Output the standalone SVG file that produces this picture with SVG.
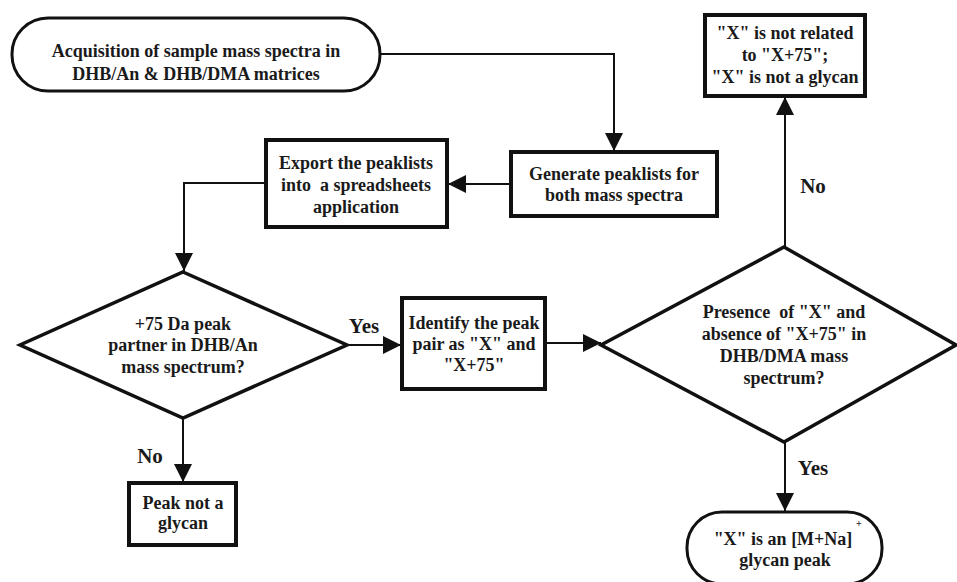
<svg xmlns="http://www.w3.org/2000/svg" width="957" height="582" viewBox="0 0 957 582">
<style>
text{font-family:'Liberation Serif','DejaVu Serif','Times New Roman',serif;font-weight:bold;font-size:18px;fill:#1a1a1a;text-anchor:middle}
.lbl{font-size:21px}
.box{fill:#fff;stroke:#111;stroke-width:4}
.term{fill:#fff;stroke:#111;stroke-width:3}
.dia{fill:#fff;stroke:#111;stroke-width:3.5;stroke-linejoin:miter}
.con{fill:none;stroke:#111;stroke-width:2}
</style>
<defs>
<marker id="arr" markerUnits="userSpaceOnUse" markerWidth="20" markerHeight="20" refX="18" refY="9" orient="auto">
<path d="M0,0 L18,9 L0,18 z" fill="#111"/>
</marker>
</defs>
<rect width="957" height="582" fill="#fff"/>
<g id="connectors">
<path class="con" d="M380,54 H614 V151" marker-end="url(#arr)"/>
<path class="con" d="M511,184 H448" marker-end="url(#arr)"/>
<path class="con" d="M266,183 H184 V271" marker-end="url(#arr)"/>
<path class="con" d="M183,418 V482" marker-end="url(#arr)"/>
<path class="con" d="M347,345 H401" marker-end="url(#arr)"/>
<path class="con" d="M545,343 H601" marker-end="url(#arr)"/>
<path class="con" d="M785,247 V97" marker-end="url(#arr)"/>
<path class="con" d="M785,442 V511" marker-end="url(#arr)"/>
</g>
<g id="start">
<rect class="term" x="12" y="18" width="368" height="73" rx="36" ry="36"/>
<text x="196" y="57">Acquisition of sample mass spectra in</text>
<text x="196" y="80">DHB/An &amp; DHB/DMA matrices</text>
</g>
<g id="generate">
<rect class="box" x="511" y="152" width="206" height="64"/>
<text x="614" y="180">Generate peaklists for</text>
<text x="614" y="201">both mass spectra</text>
</g>
<g id="export">
<rect class="box" x="266" y="140" width="181" height="87"/>
<text x="356" y="169">Export the peaklists</text>
<text x="356" y="191" xml:space="preserve">into  a spreadsheets</text>
<text x="356" y="213">application</text>
</g>
<g id="decision1">
<polygon class="dia" points="183,272 347,345 183,418 20,345"/>
<text x="183" y="330">+75 Da peak</text>
<text x="183" y="351">partner in DHB/An</text>
<text x="183" y="373">mass spectrum?</text>
</g>
<g id="notglycan">
<rect class="box" x="129" y="483" width="107" height="62"/>
<text x="183" y="509">Peak not a</text>
<text x="183" y="529">glycan</text>
</g>
<g id="identify">
<rect class="box" x="402" y="298" width="143" height="91"/>
<text x="474" y="329">Identify the peak</text>
<text x="474" y="350">pair as "X" and</text>
<text x="474" y="371">"X+75"</text>
</g>
<g id="decision2">
<polygon class="dia" points="784,247 956,345 784,442 601,345"/>
<text x="784" y="318" xml:space="preserve">Presence  of "X" and</text>
<text x="784" y="340">absence of "X+75" in</text>
<text x="784" y="362">DHB/DMA mass</text>
<text x="784" y="384">spectrum?</text>
</g>
<g id="notrelated">
<rect class="box" x="705" y="15" width="160" height="81"/>
<text x="785" y="39">"X" is not related</text>
<text x="785" y="61">to "X+75";</text>
<text x="785" y="83">"X" is not a glycan</text>
</g>
<g id="result">
<rect class="term" x="687" y="512" width="195" height="72" rx="35" ry="35"/>
<text x="783" y="545">"X" is an [M+Na]</text>
<text x="856" y="527" style="font-size:10px;text-anchor:start">+</text>
<text x="785" y="566">glycan peak</text>
</g>
<g id="labels">
<text class="lbl" x="364" y="333">Yes</text>
<text class="lbl" x="150" y="463">No</text>
<text class="lbl" x="813" y="193">No</text>
<text class="lbl" x="813" y="475">Yes</text>
</g>
</svg>
